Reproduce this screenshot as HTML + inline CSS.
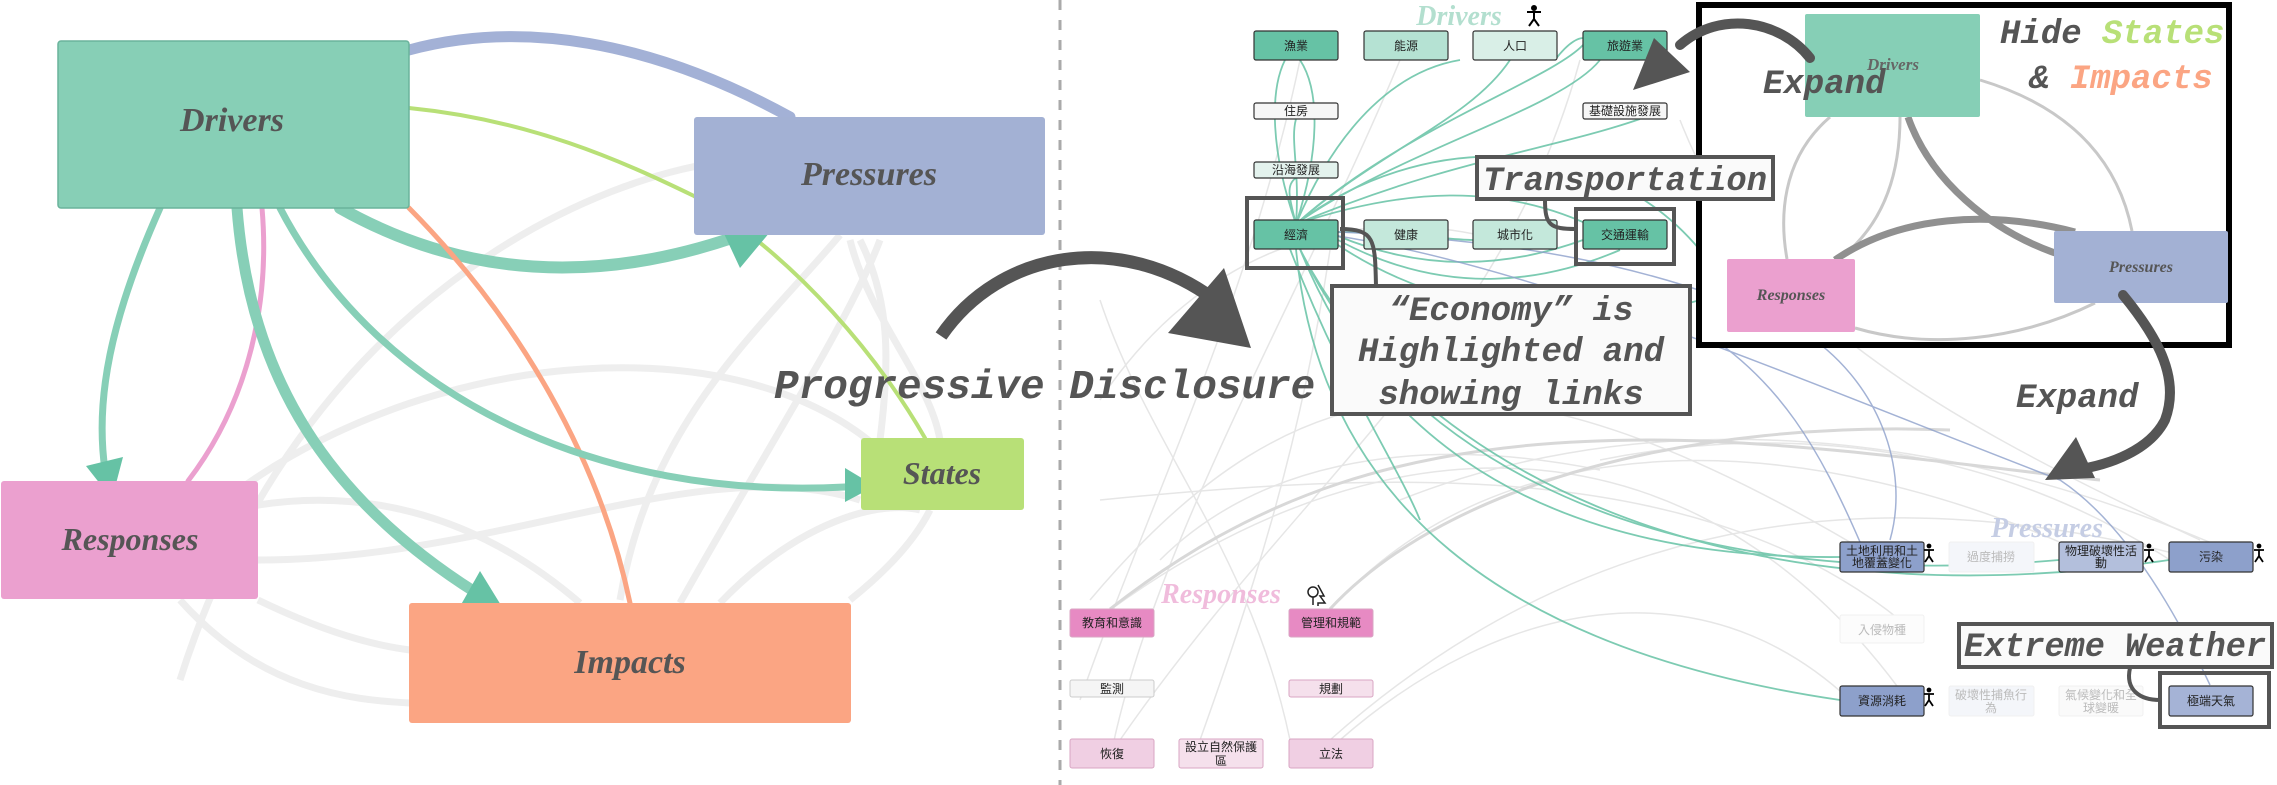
<!DOCTYPE html>
<html><head><meta charset="utf-8"><style>
html,body{margin:0;padding:0;background:#fff;}
svg{display:block;}
.cj{font-family:"Liberation Sans","Noto Sans CJK TC",sans-serif;font-size:12px;fill:#222;text-anchor:middle;}
.cjf{font-family:"Liberation Sans","Noto Sans CJK TC",sans-serif;font-size:12px;fill:#bbb;text-anchor:middle;}
.mono{font-family:"Liberation Mono",monospace;font-weight:bold;font-style:italic;fill:#555;}
.ser{font-family:"Liberation Serif",serif;font-weight:bold;font-style:italic;text-anchor:middle;}
</style></head><body>
<svg width="2277" height="785" viewBox="0 0 2277 785" xmlns="http://www.w3.org/2000/svg">
<!-- LEFT PANEL background faint arcs -->
<g fill="none" stroke="#eee" stroke-width="7">
<path d="M180,680 C300,300 600,170 740,160"/>
<path d="M160,560 C350,350 750,300 900,470"/>
<path d="M258,505 C420,480 530,560 580,603"/>
<path d="M258,560 C500,560 700,450 860,500"/>
<path d="M180,600 C260,690 350,700 410,703"/>
<path d="M258,600 C320,630 370,645 410,650"/>
<path d="M620,600 C650,420 760,330 840,235"/>
<path d="M680,603 C760,460 850,320 880,240"/>
<path d="M720,603 C800,520 880,500 920,510"/>
<path d="M850,600 C900,560 920,530 930,510"/>
<path d="M860,240 C890,300 890,360 880,440"/>
<path d="M850,240 C870,320 930,380 940,440"/>
</g>
<!-- LEFT PANEL edges -->
<g fill="none" stroke-linecap="round">
<path d="M409,50 C520,20 650,40 790,117" stroke="#a3b1d6" stroke-width="11"/>
<path d="M409,108 C530,120 620,160 694,196 C800,260 880,360 925,438" stroke="#b8e077" stroke-width="4"/>
<path d="M340,208 C450,270 580,290 735,237" stroke="#87cfb7" stroke-width="12"/>
<path d="M409,208 C520,320 600,460 630,603" stroke="#fba583" stroke-width="5"/>
<path d="M280,208 C380,400 600,500 845,487" stroke="#87cfb7" stroke-width="7"/>
<path d="M160,208 C110,320 95,400 105,470" stroke="#87cfb7" stroke-width="7"/>
<path d="M262,208 C270,300 250,400 188,481" stroke="#eba0cf" stroke-width="5"/>
<path d="M237,208 C250,380 330,500 475,592" stroke="#87cfb7" stroke-width="11"/>
</g>
<g fill="#66c2a5">
<polygon points="720,225 775,226 740,268"/>
<polygon points="845,468 875,486 845,502"/>
<polygon points="86,466 123,457 112,499"/>
<polygon points="480,571 507,615 458,610"/>
</g>
<!-- LEFT boxes -->
<rect x="58" y="41" width="351" height="167" rx="3" fill="#87cfb6" stroke="#6ab39c" stroke-width="1.5"/>
<rect x="694" y="117" width="351" height="118" rx="3" fill="#a3b1d4"/>
<rect x="861" y="438" width="163" height="72" rx="3" fill="#b8e077"/>
<rect x="1" y="481" width="257" height="118" rx="3" fill="#eba0cf"/>
<rect x="409" y="603" width="442" height="120" rx="3" fill="#fba583"/>
<text class="ser" x="232" y="131" font-size="34" fill="#555">Drivers</text>
<text class="ser" x="869" y="185" font-size="34" fill="#555">Pressures</text>
<text class="ser" x="942" y="484" font-size="32" fill="#555">States</text>
<text class="ser" x="130" y="550" font-size="32" fill="#555">Responses</text>
<text class="ser" x="630" y="673" font-size="34" fill="#555">Impacts</text>

<!-- divider -->
<line x1="1060" y1="0" x2="1060" y2="785" stroke="#aaa" stroke-width="3" stroke-dasharray="10,10"/>

<!-- RIGHT faint background curves -->
<g fill="none" stroke="#e6e6e6" stroke-width="1.5">
<path d="M1080,700 C1150,500 1250,300 1300,60"/>
<path d="M1110,760 C1150,550 1300,300 1400,60"/>
<path d="M1100,400 C1200,250 1350,200 1500,240"/>
<path d="M1090,600 C1300,350 1500,330 1880,560"/>
<path d="M1110,610 C1400,400 1700,420 1900,690"/>
<path d="M1330,610 C1500,420 1800,420 2100,560"/>
<path d="M1330,740 C1600,500 1900,480 2200,560"/>
<path d="M1120,740 C1300,480 1500,350 1580,60"/>
<path d="M1200,740 C1250,600 1300,450 1330,250"/>
<path d="M1290,740 C1250,550 1150,450 1100,300"/>
<path d="M1600,460 C1800,420 2000,450 2170,560"/>
<path d="M1400,500 C1600,420 1900,400 2250,560"/>
<path d="M1100,500 C1400,470 1700,460 1900,620"/>
<path d="M1680,120 C1750,300 1900,400 2200,540"/>
<path d="M1340,740 C1500,600 1700,560 1850,700"/>
<path d="M1160,560 C1250,470 1400,430 1600,470"/>
</g>
<g fill="none" stroke="#d8d8d8" stroke-width="3">
<path d="M1110,609 C1250,500 1400,440 1650,440 C1800,440 2000,470 2100,480"/>
<path d="M1330,609 C1450,480 1700,420 1950,430"/>
</g>
<!-- teal highlight curves -->
<g fill="none" stroke="#66c2a5" stroke-width="1.8" opacity="0.85">
<path d="M1296,224 C1270,150 1270,90 1285,60"/>
<path d="M1296,224 C1320,150 1320,90 1300,60"/>
<path d="M1296,224 C1340,120 1400,70 1460,60"/>
<path d="M1296,224 C1380,150 1470,120 1510,60"/>
<path d="M1296,224 C1400,150 1560,110 1600,60"/>
<path d="M1296,224 C1400,130 1550,80 1583,45"/>
<path d="M1296,224 C1300,170 1290,140 1296,119"/>
<path d="M1296,224 C1290,200 1285,185 1296,178"/>
<path d="M1296,224 C1450,160 1550,150 1640,119"/>
<path d="M1296,224 C1400,190 1500,180 1600,230"/>
<path d="M1296,224 C1420,130 1600,130 1700,250"/>
<path d="M1338,232 C1400,232 1450,240 1473,240"/>
<path d="M1338,236 C1420,270 1500,270 1583,240"/>
<path d="M1338,240 C1450,300 1550,280 1620,250"/>
<path d="M1300,249 C1360,400 1500,560 1840,557"/>
<path d="M1300,249 C1380,420 1600,600 2059,560"/>
<path d="M1300,249 C1400,450 1700,630 2169,560"/>
<path d="M1296,249 C1320,500 1500,650 1840,700"/>
<path d="M1290,249 C1340,380 1400,470 1420,520"/>
<path d="M1338,245 C1450,320 1600,330 1700,300"/>
<path d="M1555,60 C1570,40 1580,38 1583,38"/>
</g>
<g fill="none" stroke="#8da0cb" stroke-width="1.5" opacity="0.8">
<path d="M1338,232 C1500,240 1650,260 1800,330 C1880,380 1910,470 1890,540"/>
<path d="M1338,236 C1550,270 1800,380 2060,480 C2120,520 2170,600 2210,685"/>
<path d="M1700,330 C1780,380 1820,450 1860,542"/>
</g>
<!-- Drivers nodes -->
<text class="ser" x="1459" y="25" font-size="28" fill="#b3dfcf">Drivers</text>
<g stroke="#333" stroke-width="1.2">
<rect x="1254" y="31" width="84" height="29" rx="2" fill="#66c2a5"/>
<rect x="1364" y="31" width="84" height="29" rx="2" fill="#b5e2d3"/>
<rect x="1473" y="31" width="84" height="29" rx="2" fill="#d9efe7"/>
<rect x="1583" y="31" width="84" height="29" rx="2" fill="#66c2a5"/>
<rect x="1254" y="103" width="84" height="16" rx="2" fill="#f6f6f6"/>
<rect x="1583" y="103" width="84" height="16" rx="2" fill="#f6f6f6"/>
<rect x="1254" y="162" width="84" height="16" rx="2" fill="#e3f2ed"/>
<rect x="1254" y="220" width="84" height="29" rx="2" fill="#66c2a5"/>
<rect x="1364" y="220" width="84" height="29" rx="2" fill="#c4e8db"/>
<rect x="1473" y="220" width="84" height="29" rx="2" fill="#c4e8db"/>
<rect x="1583" y="220" width="84" height="29" rx="2" fill="#66c2a5"/>
</g>
<text class="cj" x="1296" y="50">漁業</text>
<text class="cj" x="1406" y="50">能源</text>
<text class="cj" x="1515" y="50">人口</text>
<text class="cj" x="1625" y="50">旅遊業</text>
<text class="cj" x="1296" y="115">住房</text>
<text class="cj" x="1625" y="115">基礎設施發展</text>
<text class="cj" x="1296" y="174">沿海發展</text>
<text class="cj" x="1296" y="239">經濟</text>
<text class="cj" x="1406" y="239">健康</text>
<text class="cj" x="1515" y="239">城市化</text>
<text class="cj" x="1625" y="239">交通運輸</text>
<g stroke="#000" stroke-width="2" fill="none">
<circle cx="1534" cy="8" r="2" fill="#000"/><path d="M1527,12 L1541,12 M1534,12 L1534,19 M1534,19 L1529,26 M1534,19 L1539,26"/>
</g>

<!-- Responses -->
<text class="ser" x="1221" y="603" font-size="28" fill="#f0bcdc">Responses</text>
<g fill="none" stroke="#222" stroke-width="1.5"><circle cx="1313" cy="592" r="5"/><path d="M1313,597 L1313,605 M1318,585 L1324,596 L1320,596 L1325,603 L1318,603 L1318,606"/></g>
<g stroke="#d9a6c3" stroke-width="1">
<rect x="1070" y="609" width="84" height="28" rx="2" fill="#e78ac3"/>
<rect x="1289" y="609" width="84" height="28" rx="2" fill="#e78ac3"/>
<rect x="1070" y="680" width="84" height="17" rx="2" fill="#f5f5f5" stroke="#ccc"/>
<rect x="1289" y="680" width="84" height="17" rx="2" fill="#f5e0ec"/>
<rect x="1070" y="739" width="84" height="29" rx="2" fill="#f0cfe3"/>
<rect x="1179" y="739" width="84" height="29" rx="2" fill="#f5e0ec"/>
<rect x="1289" y="739" width="84" height="29" rx="2" fill="#f0cfe3"/>
</g>
<text class="cj" x="1112" y="627">教育和意識</text>
<text class="cj" x="1331" y="627">管理和規範</text>
<text class="cj" x="1112" y="693">監測</text>
<text class="cj" x="1331" y="693">規劃</text>
<text class="cj" x="1112" y="758">恢復</text>
<text class="cj" x="1221" y="751">設立自然保護</text>
<text class="cj" x="1221" y="765">區</text>
<text class="cj" x="1331" y="758">立法</text>

<!-- Pressures -->
<text class="ser" x="2047" y="537" font-size="28" fill="#c5cde4">Pressures</text>
<g stroke="#333" stroke-width="1.2">
<rect x="1840" y="542" width="84" height="30" rx="2" fill="#8da0cb"/>
<rect x="2059" y="542" width="84" height="30" rx="2" fill="#b3bfdc"/>
<rect x="2169" y="542" width="84" height="30" rx="2" fill="#8da0cb"/>
<rect x="1840" y="686" width="84" height="30" rx="2" fill="#8da0cb"/>
<rect x="2169" y="686" width="84" height="30" rx="2" fill="#a5b3d6"/>
</g>
<g fill="#f4f6fa" stroke="#f0f0f0">
<rect x="1949" y="542" width="85" height="30" rx="2"/>
<rect x="1840" y="615" width="84" height="28" rx="2" fill="#fcfcfc"/>
<rect x="1949" y="686" width="85" height="30" rx="2"/>
<rect x="2059" y="686" width="84" height="30" rx="2" fill="#fafafa"/>
</g>
<text class="cj" x="1882" y="555">土地利用和土</text>
<text class="cj" x="1882" y="567">地覆蓋變化</text>
<text class="cjf" x="1991" y="561">過度捕撈</text>
<text class="cj" x="2101" y="555">物理破壞性活</text>
<text class="cj" x="2101" y="567">動</text>
<text class="cj" x="2211" y="561">污染</text>
<text class="cjf" x="1882" y="634">入侵物種</text>
<text class="cj" x="1882" y="705">資源消耗</text>
<text class="cjf" x="1991" y="699">破壞性捕魚行</text>
<text class="cjf" x="1991" y="712">為</text>
<text class="cjf" x="2101" y="699">氣候變化和全</text>
<text class="cjf" x="2101" y="712">球變暖</text>
<text class="cj" x="2211" y="705">極端天氣</text>
<g stroke="#000" stroke-width="1.8" fill="none">
<path d="M1924,550 L1934,550 M1929,550 L1929,556 L1925,562 M1929,556 L1933,562"/><circle cx="1929" cy="546" r="1.5" fill="#000"/>
<path d="M2144,550 L2154,550 M2149,550 L2149,556 L2145,562 M2149,556 L2153,562"/><circle cx="2149" cy="546" r="1.5" fill="#000"/>
<path d="M2254,550 L2264,550 M2259,550 L2259,556 L2255,562 M2259,556 L2263,562"/><circle cx="2259" cy="546" r="1.5" fill="#000"/>
<path d="M1924,694 L1934,694 M1929,694 L1929,700 L1925,706 M1929,700 L1933,706"/><circle cx="1929" cy="690" r="1.5" fill="#000"/>
</g>

<!-- Inset -->
<rect x="1699" y="5" width="530" height="340" fill="#fff" stroke="#000" stroke-width="6"/>
<g fill="none" stroke="#c8c8c8" stroke-width="3">
<path d="M1830,117 C1780,160 1780,220 1787,259"/>
<path d="M1900,117 C1900,180 1880,230 1835,262"/>
<path d="M1980,80 C2080,110 2120,170 2132,231"/>
<path d="M1855,328 C1930,350 2020,340 2095,303"/>
</g>
<g fill="none" stroke="#909090" stroke-width="7">
<path d="M1908,117 C1930,180 1990,230 2055,253"/>
<path d="M1835,260 C1900,215 1990,210 2075,232"/>
</g>
<rect x="1805" y="14" width="175" height="103" rx="2" fill="#86cfb6"/>
<rect x="2054" y="231" width="174" height="72" rx="2" fill="#a3b1d4"/>
<rect x="1727" y="259" width="128" height="73" rx="2" fill="#eba0cf"/>
<text class="ser" x="1893" y="70" font-size="17" fill="#666">Drivers</text>
<text class="ser" x="2141" y="272" font-size="16" fill="#555">Pressures</text>
<text class="ser" x="1791" y="300" font-size="16" fill="#555">Responses</text>
<text class="mono" x="2000" y="43" font-size="34">Hide <tspan fill="#b8e077">States</tspan></text>
<text class="mono" x="2029" y="88" font-size="34">&amp; <tspan fill="#fba583">Impacts</tspan></text>
<text class="mono" x="1763" y="93" font-size="34">Expand</text>
<path d="M1810,58 C1780,20 1720,10 1680,45" fill="none" stroke="#555" stroke-width="10" stroke-linecap="round"/>
<polygon points="1633,90 1654,38 1690,72" fill="#555"/>
<text class="mono" x="2016" y="407" font-size="34">Expand</text>
<path d="M2123,295 C2160,340 2180,380 2165,420 C2150,450 2110,465 2075,470" fill="none" stroke="#555" stroke-width="10" stroke-linecap="round"/>
<polygon points="2045,480 2076,437 2095,478" fill="#555"/>

<!-- Annotation boxes -->
<rect x="1247" y="198" width="96" height="70" fill="none" stroke="#555" stroke-width="4"/>
<rect x="1576" y="209" width="98" height="55" fill="none" stroke="#555" stroke-width="4"/>
<rect x="2160" y="673" width="109" height="54" fill="none" stroke="#555" stroke-width="4"/>
<path d="M1340,229 C1375,229 1375,240 1376,286" fill="none" stroke="#555" stroke-width="4"/>
<path d="M1545,200 C1545,225 1550,229 1576,229" fill="none" stroke="#555" stroke-width="4"/>
<path d="M2130,668 C2125,690 2140,700 2160,700" fill="none" stroke="#555" stroke-width="4"/>
<rect x="1477" y="157" width="296" height="42" fill="#fafafa" stroke="#555" stroke-width="4"/>
<text class="mono" x="1483" y="190" font-size="34" textLength="284" lengthAdjust="spacingAndGlyphs">Transportation</text>
<rect x="1332" y="286" width="358" height="128" fill="#fafafa" stroke="#555" stroke-width="4"/>
<text class="mono" x="1511" y="320" font-size="34" text-anchor="middle">“Economy” is</text>
<text class="mono" x="1511" y="361" font-size="34" text-anchor="middle">Highlighted and</text>
<text class="mono" x="1511" y="404" font-size="34" text-anchor="middle">showing links</text>
<rect x="1959" y="624" width="313" height="43" fill="#fafafa" stroke="#555" stroke-width="4"/>
<text class="mono" x="1964" y="656" font-size="34" textLength="302" lengthAdjust="spacingAndGlyphs">Extreme Weather</text>

<!-- Progressive Disclosure -->
<path d="M941,336 C1000,250 1120,230 1215,300" fill="none" stroke="#555" stroke-width="13"/>
<polygon points="1168,333 1224,268 1251,348" fill="#555"/>
<text class="mono" x="774" y="398" font-size="41">Progressive Disclosure</text>
</svg>
</body></html>
